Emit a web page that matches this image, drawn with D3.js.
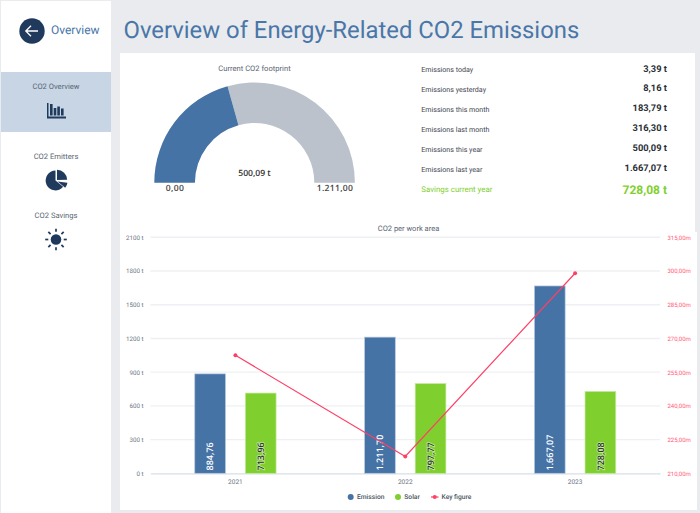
<!DOCTYPE html>
<html>
<head>
<meta charset="utf-8" />
<title>Overview of Energy-Related CO2 Emissions</title>
<script src="https://cdn.jsdelivr.net/npm/d3@7"></script>
<style>
html, body { margin: 0; padding: 0; background: #e9ebee; overflow: hidden; }
svg { display: block; }
text { font-family: Roboto, sans-serif; text-rendering: geometricPrecision; }
</style>
</head>
<body>
<svg id="page" width="700" height="513"></svg>
<script>
// chart values
var years = ["2021", "2022", "2023"];
var emission = [884.76, 1211.70, 1667.07];
var solar = [713.96, 797.77, 728.08];
var keyFigure = [262.5, 217.5, 299];
var emissionLabels = ["884,76", "1.211,70", "1.667,07"];
var solarLabels = ["713,96", "797,77", "728,08"];
var leftTicks = [0, 300, 600, 900, 1200, 1500, 1800, 2100];
var rightTicks = [210, 225, 240, 255, 270, 285, 300, 315];
var legendNames = ["Emission", "Solar", "Key figure"];

var gaugeValue = 500.09;
var gaugeMax = 1211;

var statNames = ["Emissions today", "Emissions yesterday", "Emissions this month",
  "Emissions last month", "Emissions this year", "Emissions last year"];
var statValues = ["3,39 t", "8,16 t", "183,79 t", "316,30 t", "500,09 t", "1.667,07 t"];

var menuNames = ["CO2 Overview", "CO2 Emitters", "CO2 Savings"];

var blue = "#4673a6", green = "#7fd02f", red = "#ff3f66", navy = "#1f3a5c", gray = "#bbc2cb";

var svg = d3.select("#page");

// panels
svg.append("rect").attr("x", 1).attr("y", 1).attr("width", 110).attr("height", 512).attr("fill", "#fff");
svg.append("rect").attr("x", 120).attr("y", 53).attr("width", 575).attr("height", 180).attr("fill", "#fff");
svg.append("rect").attr("x", 120).attr("y", 232).attr("width", 577).attr("height", 278).attr("fill", "#fff");
svg.append("rect").attr("x", 1).attr("y", 72).attr("width", 110).attr("height", 60).attr("fill", "#c7d5e5");

// header
svg.append("circle").attr("cx", 32).attr("cy", 31).attr("r", 12.7).attr("fill", navy);
svg.append("path").attr("d", "M38 31H26.5M31 25.8L25.8 31L31 36.2")
  .attr("fill", "none").attr("stroke", "#fff").attr("stroke-width", 1.3);
svg.append("text").attr("x", 51).attr("y", 34).attr("font-size", 12).attr("fill", "#4a76a8").text("Overview");
svg.append("text").attr("x", 123.5).attr("y", 38).attr("font-size", 23.85).attr("fill", "#4a76a8")
  .text("Overview of Energy-Related CO2 Emissions");

// sidebar
svg.selectAll(".menu").data(menuNames).join("text")
  .attr("x", 56).attr("y", function (d, i) { return [88.5, 158.5, 218][i]; })
  .attr("text-anchor", "middle").attr("font-size", 7.6).attr("fill", "#5a6673").text(function (d) { return d; });

var barsIcon = svg.append("g").attr("fill", navy);
barsIcon.append("path").attr("d", "M47 103H48.5V116.6H66V118.4H47Z");
[[50, 104, 2.6], [53.7, 108, 2.6], [57.3, 106.5, 2.6], [61, 108.5, 2.6]].forEach(function (b) {
  barsIcon.append("rect").attr("x", b[0]).attr("y", b[1]).attr("width", b[2]).attr("height", 115.5 - b[1]);
});

var pieIcon = svg.append("g").attr("fill", navy);
var iconArc = d3.arc().innerRadius(0);
pieIcon.append("path").attr("transform", "translate(55.5,180.5)")
  .attr("d", iconArc({ outerRadius: 9.9, startAngle: Math.PI * 0.72, endAngle: Math.PI * 2 }));
pieIcon.append("path").attr("transform", "translate(57,180)")
  .attr("d", iconArc({ outerRadius: 10.2, startAngle: 0, endAngle: Math.PI * 0.49 }));
pieIcon.append("path").attr("transform", "translate(57.5,181.5)")
  .attr("d", iconArc({ outerRadius: 10, startAngle: Math.PI * 0.54, endAngle: Math.PI * 0.72 }));

var sunIcon = svg.append("g").attr("transform", "translate(56,239.5)");
sunIcon.append("circle").attr("r", 5.3).attr("fill", navy);
d3.range(8).forEach(function (i) {
  sunIcon.append("line").attr("y1", -7.7).attr("y2", -10.8)
    .attr("transform", "rotate(" + i * 45 + ")")
    .attr("stroke", navy).attr("stroke-width", 1.7);
});

// gauge
var gaugeScale = d3.scaleLinear().domain([0, gaugeMax]).range([-Math.PI / 2, Math.PI / 2]);
var gaugeArc = d3.arc().innerRadius(59.7).outerRadius(100.3);
var gauge = svg.append("g").attr("transform", "translate(254.6,182.7)");
gauge.append("path").attr("fill", gray)
  .attr("d", gaugeArc({ startAngle: gaugeScale(gaugeValue), endAngle: gaugeScale(gaugeMax) }));
gauge.append("path").attr("fill", blue)
  .attr("d", gaugeArc({ startAngle: gaugeScale(0), endAngle: gaugeScale(gaugeValue) }));
svg.append("text").attr("x", 254.5).attr("y", 71).attr("text-anchor", "middle").attr("font-size", 7.6)
  .attr("fill", "#5a6673").text("Current CO2 footprint");
svg.append("text").attr("x", 254.5).attr("y", 176).attr("text-anchor", "middle")
  .style("font-family", "Open Sans").attr("font-size", 8.6).attr("font-weight", 600).attr("fill", "#333").text("500,09 t");
svg.append("text").attr("x", 175).attr("y", 191).attr("text-anchor", "middle").attr("letter-spacing", 0.3)
  .style("font-family", "Open Sans").attr("font-size", 8.6).attr("font-weight", 600).attr("fill", "#444").text("0,00");
svg.append("text").attr("x", 335).attr("y", 191).attr("text-anchor", "middle").attr("letter-spacing", 0.3)
  .style("font-family", "Open Sans").attr("font-size", 8.6).attr("font-weight", 600).attr("fill", "#444").text("1.211,00");

// stat list
var statY = d3.scalePoint().domain(statNames).range([72, 171.5]);
svg.selectAll(".statName").data(statNames).join("text")
  .attr("x", 421.3).attr("y", function (d) { return statY(d); })
  .attr("font-size", 7.1).attr("fill", "#3f4650").text(function (d) { return d; });
svg.selectAll(".statValue").data(statValues).join("text")
  .attr("x", 667).attr("y", function (d, i) { return statY(statNames[i]) - 0.5; })
  .attr("text-anchor", "end").attr("font-size", 9.3).attr("font-weight", 700).attr("fill", "#2a2f36")
  .text(function (d) { return d; });
svg.append("text").attr("x", 421.3).attr("y", 192).attr("font-size", 7.9).attr("fill", green).text("Savings current year");
svg.append("text").attr("x", 667).attr("y", 193.5).attr("text-anchor", "end").attr("font-size", 12)
  .attr("font-weight", 700).attr("fill", green).text("728,08 t");

// combo chart
svg.append("text").attr("x", 408.5).attr("y", 231).attr("text-anchor", "middle").attr("font-size", 7.5)
  .attr("fill", "#5a6673").text("CO2 per work area");

var x = d3.scaleBand().domain(years).range([150.5, 660]);
var yLeft = d3.scaleLinear().domain([0, 2100]).range([473.3, 237.3]);
var yRight = d3.scaleLinear().domain([210, 315]).range([473.3, 237.3]);

var grid = svg.append("g");
grid.selectAll("line").data(leftTicks.slice(1)).join("line")
  .attr("x1", 150.5).attr("x2", 660)
  .attr("y1", function (d) { return yLeft(d); }).attr("y2", function (d) { return yLeft(d); })
  .attr("stroke", "#eef0f3").attr("stroke-width", 1.4);

var axisLeft = svg.append("g").attr("transform", "translate(150.5,0)")
  .call(d3.axisLeft(yLeft).tickValues(leftTicks).tickSize(0).tickPadding(7).tickFormat(function (d) { return d + " t"; }));
axisLeft.select(".domain").remove();
axisLeft.selectAll("text").attr("font-size", 6.2).attr("fill", "#6d757f").style("font-family", "Roboto");

var axisRight = svg.append("g").attr("transform", "translate(660,0)")
  .call(d3.axisRight(yRight).tickValues(rightTicks).tickSize(0).tickPadding(7.5)
    .tickFormat(function (d) { return d + ",00m"; }));
axisRight.select(".domain").remove();
axisRight.selectAll("text").attr("font-size", 6).attr("fill", "#ff5a78").style("font-family", "Roboto");

var axisBottom = svg.append("g").attr("transform", "translate(0,473.3)")
  .call(d3.axisBottom(x).tickSize(0).tickPadding(6));
axisBottom.select(".domain").attr("stroke", "#d8dfe8").attr("stroke-width", 1.2);
axisBottom.selectAll("text").attr("font-size", 6.5).attr("fill", "#6d757f").style("font-family", "Roboto");

var barW = 30.7;
function drawBars(values, labels, offset, fill, edge, labelFill, halo) {
  var g = svg.append("g");
  g.selectAll("rect").data(values).join("rect")
    .attr("x", function (d, i) { return x(years[i]) + x.bandwidth() / 2 + offset - barW / 2; })
    .attr("y", function (d) { return yLeft(d); })
    .attr("width", barW)
    .attr("height", function (d) { return yLeft(0) - yLeft(d); })
    .attr("fill", fill).attr("stroke", edge).attr("stroke-width", 0.7);
  g.selectAll("text").data(labels).join("text")
    .attr("transform", function (d, i) {
      return "translate(" + (x(years[i]) + x.bandwidth() / 2 + offset + 3.2) + ",470.5) rotate(-90)";
    })
    .attr("font-size", 9).attr("fill", labelFill)
    .style("font-family", "Open Sans").attr("font-weight", 600)
    .style("paint-order", "stroke")
    .attr("stroke", halo).attr("stroke-width", 1.4).attr("stroke-opacity", 0.6)
    .text(function (d) { return d; });
}
drawBars(emission, emissionLabels, -25.3, blue, "#b6c9de", "#fff", blue);
drawBars(solar, solarLabels, 25.3, green, "#c3e89c", "#2a3325", "#ffffff");

var line = d3.line()
  .x(function (d, i) { return x(years[i]) + x.bandwidth() / 2; })
  .y(function (d) { return yRight(d); });
svg.append("path").attr("d", line(keyFigure)).attr("fill", "none").attr("stroke", red).attr("stroke-width", 1.2);
svg.selectAll(".keyPoint").data(keyFigure).join("circle")
  .attr("cx", function (d, i) { return x(years[i]) + x.bandwidth() / 2; })
  .attr("cy", function (d) { return yRight(d); })
  .attr("r", 2).attr("fill", red);

// legend
var legendX = [350.7, 398, 431];
var legendColors = [blue, green, red];
var legend = svg.append("g");
legendNames.forEach(function (name, i) {
  if (i < 2) {
    legend.append("circle").attr("cx", legendX[i]).attr("cy", 497).attr("r", 3).attr("fill", legendColors[i]);
  } else {
    legend.append("line").attr("x1", legendX[i]).attr("x2", legendX[i] + 7.5).attr("y1", 497).attr("y2", 497)
      .attr("stroke", red).attr("stroke-width", 1.2);
    legend.append("circle").attr("cx", legendX[i] + 3.7).attr("cy", 497).attr("r", 2).attr("fill", red);
  }
  legend.append("text").attr("x", legendX[i] + (i < 2 ? 6.3 : 10.5)).attr("y", 499.2)
    .attr("font-size", 6.7).attr("font-weight", 500).attr("fill", "#4a5560").text(name);
});
</script>
</body>
</html>
